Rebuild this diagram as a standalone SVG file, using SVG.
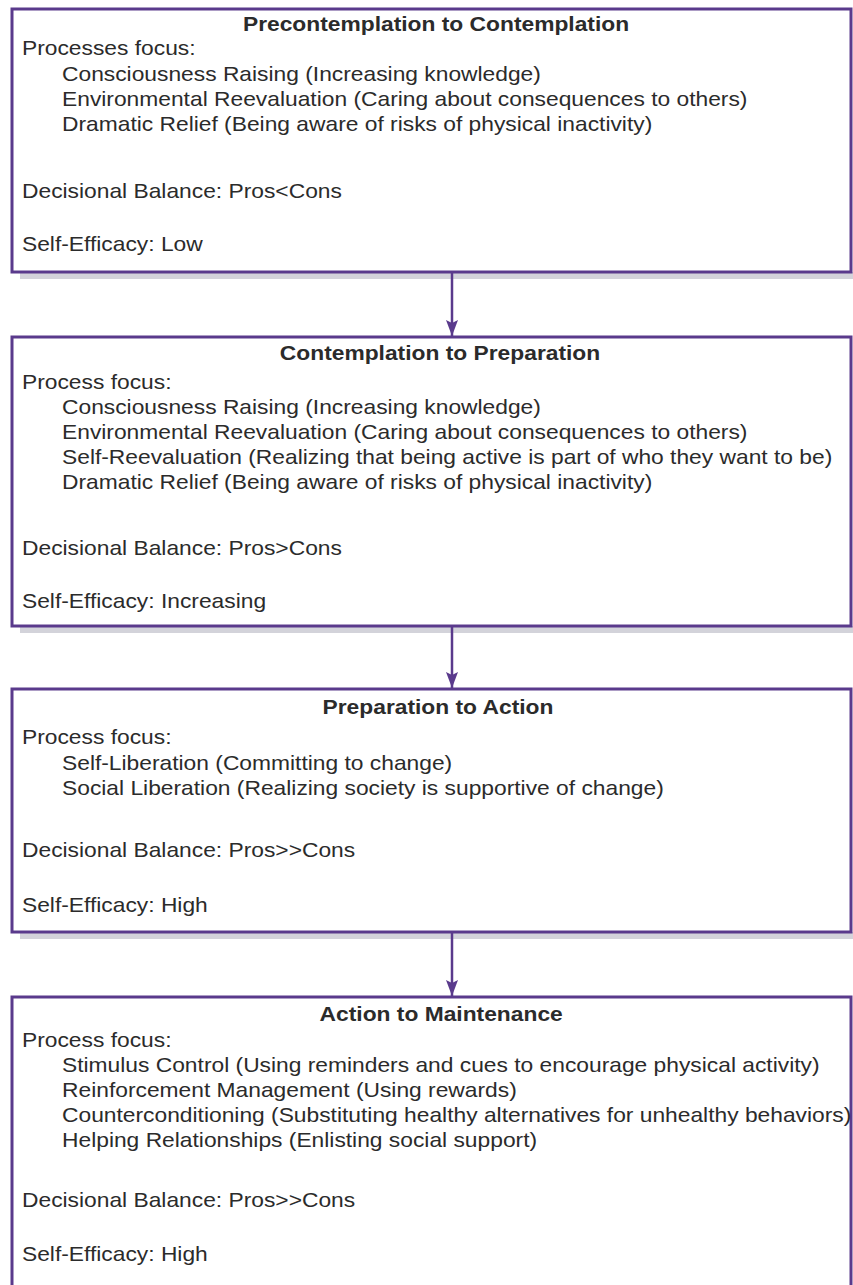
<svg xmlns="http://www.w3.org/2000/svg" width="853" height="1285" viewBox="0 0 853 1285">
  <defs>
    <!-- arrowhead drawn along +x so orient="auto" points it down the line -->
    <marker id="arrow" viewBox="0 0 16 12" refX="16" refY="6" markerWidth="16" markerHeight="12" markerUnits="userSpaceOnUse" orient="auto">
      <path d="M0,0 L16,6 L0,12 L3,6 Z" fill="#5a3a8c"/>
    </marker>
  </defs>
  <style>
    .box { fill: #ffffff; stroke: #5a3a8c; stroke-width: 3; }
    .shadow { fill: #d3d3da; }
    .conn { stroke: #5a3a8c; stroke-width: 2.5; fill: none; }
    .txt { transform: scale(1.14, 1); }
    text { font-family: "Liberation Sans", Arial, Helvetica, sans-serif; font-size: 20px; fill: #2b2b2b; }
    .title { font-weight: bold; text-anchor: middle; }
  </style>
  <rect width="853" height="1285" fill="#ffffff"/>

  <!-- Stage 1 -->
  <g id="precontemplation">
    <rect class="shadow" x="20" y="272" width="840" height="7"/>
    <rect class="box" x="12" y="9" width="839" height="263"/>
    <g class="txt">
      <text class="title" x="382.5" y="31">Precontemplation to Contemplation</text>
      <text x="19.3" y="55">Processes focus:</text>
      <text x="54.4" y="81">Consciousness Raising (Increasing knowledge)</text>
      <text x="54.4" y="106">Environmental Reevaluation (Caring about consequences to others)</text>
      <text x="54.4" y="131">Dramatic Relief (Being aware of risks of physical inactivity)</text>
      <text x="19.3" y="198">Decisional Balance: Pros&lt;Cons</text>
      <text x="19.3" y="251">Self-Efficacy: Low</text>
    </g>
  </g>

  <!-- Stage 2 -->
  <g id="contemplation">
    <rect class="shadow" x="20" y="626" width="840" height="7"/>
    <rect class="box" x="12" y="337" width="839" height="289"/>
    <g class="txt">
      <text class="title" x="386" y="360">Contemplation to Preparation</text>
      <text x="19.3" y="389">Process focus:</text>
      <text x="54.4" y="414">Consciousness Raising (Increasing knowledge)</text>
      <text x="54.4" y="439">Environmental Reevaluation (Caring about consequences to others)</text>
      <text x="54.4" y="464">Self-Reevaluation (Realizing that being active is part of who they want to be)</text>
      <text x="54.4" y="489">Dramatic Relief (Being aware of risks of physical inactivity)</text>
      <text x="19.3" y="555">Decisional Balance: Pros&gt;Cons</text>
      <text x="19.3" y="608">Self-Efficacy: Increasing</text>
    </g>
  </g>

  <!-- Stage 3 -->
  <g id="preparation">
    <rect class="shadow" x="20" y="932" width="840" height="7"/>
    <rect class="box" x="12" y="689" width="839" height="243"/>
    <g class="txt">
      <text class="title" x="384.2" y="714">Preparation to Action</text>
      <text x="19.3" y="744">Process focus:</text>
      <text x="54.4" y="770">Self-Liberation (Committing to change)</text>
      <text x="54.4" y="795">Social Liberation (Realizing society is supportive of change)</text>
      <text x="19.3" y="857">Decisional Balance: Pros&gt;&gt;Cons</text>
      <text x="19.3" y="912">Self-Efficacy: High</text>
    </g>
  </g>

  <!-- Stage 4 -->
  <g id="action">
    <rect class="box" x="12" y="997" width="839" height="300"/>
    <g class="txt">
      <text class="title" x="387" y="1021">Action to Maintenance</text>
      <text x="19.3" y="1047">Process focus:</text>
      <text x="54.4" y="1072">Stimulus Control (Using reminders and cues to encourage physical activity)</text>
      <text x="54.4" y="1097">Reinforcement Management (Using rewards)</text>
      <text x="54.4" y="1122">Counterconditioning (Substituting healthy alternatives for unhealthy behaviors)</text>
      <text x="54.4" y="1147">Helping Relationships (Enlisting social support)</text>
      <text x="19.3" y="1207">Decisional Balance: Pros&gt;&gt;Cons</text>
      <text x="19.3" y="1261">Self-Efficacy: High</text>
    </g>
  </g>

  <!-- Connectors -->
  <g id="connectors">
    <line class="conn" x1="452" y1="273" x2="452" y2="336" marker-end="url(#arrow)"/>
    <line class="conn" x1="452" y1="627" x2="452" y2="688" marker-end="url(#arrow)"/>
    <line class="conn" x1="452" y1="933" x2="452" y2="996" marker-end="url(#arrow)"/>
  </g>
</svg>
